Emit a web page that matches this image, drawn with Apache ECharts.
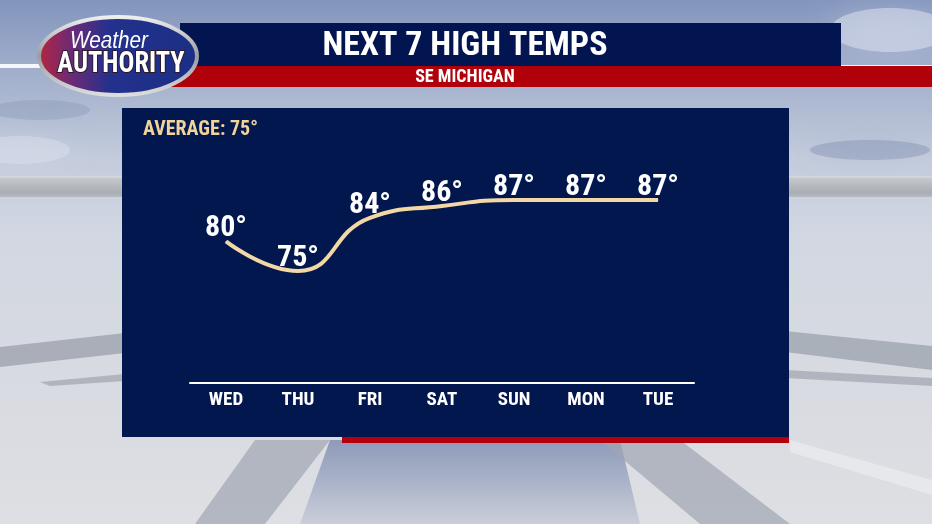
<!DOCTYPE html>
<html>
<head>
<meta charset="utf-8">
<script src="https://cdn.jsdelivr.net/npm/echarts@6/dist/echarts.min.js"></script>
<style>
html,body{margin:0;padding:0;background:#cfd5e1;}
#chart{width:932px;height:524px;}
</style>
</head>
<body>
<div id="chart"></div>
<script>
const days = ['WED', 'THU', 'FRI', 'SAT', 'SUN', 'MON', 'TUE'];
const highs = [80, 75, 84, 86, 87, 87, 87];
const averageHigh = 75;
const titleText = 'NEXT 7 HIGH TEMPS';
const subtitleText = 'SE MICHIGAN';

const COND = "'Liberation Sans Narrow', 'Roboto Condensed', 'Liberation Sans', sans-serif";
const chart = echarts.init(document.getElementById('chart'), null, {renderer: 'canvas'});

function lg(x1, y1, x2, y2, stops) {
  return new echarts.graphic.LinearGradient(x1, y1, x2, y2, stops.map(s => ({offset: s[0], color: s[1]})));
}
function cloud(cx, cy, rx, ry, color) {
  return {type: 'ellipse', z: 0, shape: {cx: cx, cy: cy, rx: rx, ry: ry},
    style: {fill: color, shadowBlur: 30, shadowColor: color}};
}

const bg = [
  // sky / stage backdrop
  {type: 'rect', z: 0, shape: {x: 0, y: 0, width: 932, height: 524},
   style: {fill: lg(0, 0, 0, 1, [[0, '#8395bd'], [0.12, '#9eacca'], [0.3, '#c3cbdc'], [0.45, '#d2d7e2'], [0.7, '#d7dae1'], [1, '#dedfe3']])}},
  // clouds
  cloud(890, 30, 60, 22, 'rgba(225,230,242,0.5)'),
  cloud(20, 150, 50, 14, 'rgba(220,226,238,0.45)'),
  cloud(870, 150, 60, 10, 'rgba(115,130,165,0.35)'),
  cloud(40, 110, 50, 10, 'rgba(115,130,165,0.25)'),
  // upper metallic band
  {type: 'rect', z: 0, shape: {x: 0, y: 176, width: 932, height: 21},
   style: {fill: lg(0, 0, 0, 1, [[0, '#d8dadf'], [0.15, '#c3c6cc'], [0.8, '#a9adb4'], [1, '#b7bac0']])}},
  // lower bands (left)
  {type: 'polygon', z: 0, shape: {points: [[0, 347], [125, 333], [125, 353], [0, 367]]}, style: {fill: '#a9aeb8'}},
  {type: 'polygon', z: 0, shape: {points: [[40, 382], [125, 374], [125, 381], [50, 386]]}, style: {fill: 'rgba(150,155,165,0.6)'}},
  // lower bands (right)
  {type: 'polygon', z: 0, shape: {points: [[785, 331], [932, 346], [932, 370], [785, 352]]}, style: {fill: '#aab0ba'}},
  {type: 'polygon', z: 0, shape: {points: [[785, 370], [932, 378], [932, 386], [785, 378]]}, style: {fill: 'rgba(150,155,168,0.6)'}},
  // bottom well
  {type: 'polygon', z: 0, shape: {points: [[330, 440], [620, 440], [640, 524], [300, 524]]},
   style: {fill: lg(0, 0, 0, 1, [[0, '#8e9bb9'], [0.5, '#aab3c9'], [1, '#c9ced9']])}},
  {type: 'polygon', z: 0, shape: {points: [[255, 440], [330, 440], [265, 524], [195, 524]]}, style: {fill: 'rgba(160,165,178,0.7)'}},
  {type: 'polygon', z: 0, shape: {points: [[600, 440], [680, 440], [790, 524], [700, 524]]}, style: {fill: 'rgba(160,165,178,0.7)'}},
  {type: 'polygon', z: 0, shape: {points: [[790, 440], [932, 480], [932, 495], [790, 452]]}, style: {fill: 'rgba(235,237,240,0.7)'}},
  // title bar
  {type: 'rect', z: 1, shape: {x: 0, y: 64, width: 60, height: 4}, style: {fill: '#f4f6fa'}},
  {type: 'rect', z: 1, shape: {x: 841, y: 65, width: 91, height: 2}, style: {fill: '#f0f2f6'}},
  {type: 'rect', z: 1, shape: {x: 180, y: 23, width: 661, height: 43}, style: {fill: '#031550'}},
  {type: 'rect', z: 1, shape: {x: 100, y: 66, width: 832, height: 21}, style: {fill: '#b0000a'}},
  // chart panel
  {type: 'rect', z: 1, shape: {x: 342, y: 436, width: 447, height: 7}, style: {fill: '#b3000c'}},
  {type: 'rect', z: 1, shape: {x: 122, y: 108, width: 667, height: 329}, style: {fill: '#03174f'}},
  // logo
  {type: 'ellipse', z: 2, shape: {cx: 118, cy: 56, rx: 79, ry: 39},
   style: {fill: lg(0, 0, 1, 0, [[0, '#b7253c'], [0.22, '#6a2a78'], [0.45, '#23318c'], [1, '#1b2f86']]),
           stroke: lg(0, 0, 0, 1, [[0, '#f2f2f2'], [0.5, '#9a9ca2'], [1, '#e0e0e0']]), lineWidth: 4}},
  {type: 'text', z: 3, x: 109, y: 42, scaleX: 0.9, style: {text: 'Weather', x: 0, y: 0, fill: '#ffffff', textAlign: 'center', textVerticalAlign: 'middle',
     font: "italic 23px 'Liberation Sans Narrow', 'Liberation Sans', sans-serif"}},
  {type: 'text', z: 3, x: 121, y: 64, scaleX: 0.88, style: {text: 'AUTHORITY', x: 0, y: 0, fill: '#ffffff', stroke: '#2a1a2a', lineWidth: 2,
     textAlign: 'center', textVerticalAlign: 'middle', font: "bold 30px " + COND}},
  // titles
  {type: 'text', z: 3, style: {text: titleText, x: 465, y: 46, fill: '#ffffff', textAlign: 'center', textVerticalAlign: 'middle',
     font: "bold 34px " + COND}},
  {type: 'text', z: 3, style: {text: subtitleText, x: 465, y: 77, fill: '#ffffff', textAlign: 'center', textVerticalAlign: 'middle',
     font: "bold 18px " + COND}},
  {type: 'text', z: 3, style: {text: 'AVERAGE: ' + averageHigh + '°', x: 143, y: 130, fill: '#f2d39a', textAlign: 'left', textVerticalAlign: 'middle',
     font: "bold 20px " + COND}}
];

chart.setOption({
  animation: false,
  backgroundColor: 'transparent',
  graphic: {elements: bg},
  grid: {left: 190, right: 238, top: 147, bottom: 141},
  xAxis: {
    type: 'category', data: days, boundaryGap: true, z: 5,
    axisLine: {lineStyle: {color: '#ffffff', width: 2}},
    axisTick: {show: false},
    axisLabel: {color: '#ffffff', fontFamily: COND, fontWeight: 'bold', fontSize: 19, margin: 8}
  },
  yAxis: {type: 'value', min: 56, max: 96, show: false, splitLine: {show: false}},
  series: [{
    type: 'line', data: highs, smooth: 0.5, z: 5,
    symbol: 'circle', symbolSize: 1, showSymbol: true,
    itemStyle: {color: '#f3d8a6'},
    lineStyle: {color: '#f3d8a6', width: 4},
    label: {show: true, position: 'top', distance: -3, formatter: '{c}°',
      color: '#ffffff', fontFamily: COND, fontWeight: 'bold', fontSize: 30}
  }]
});
</script>
</body>
</html>
